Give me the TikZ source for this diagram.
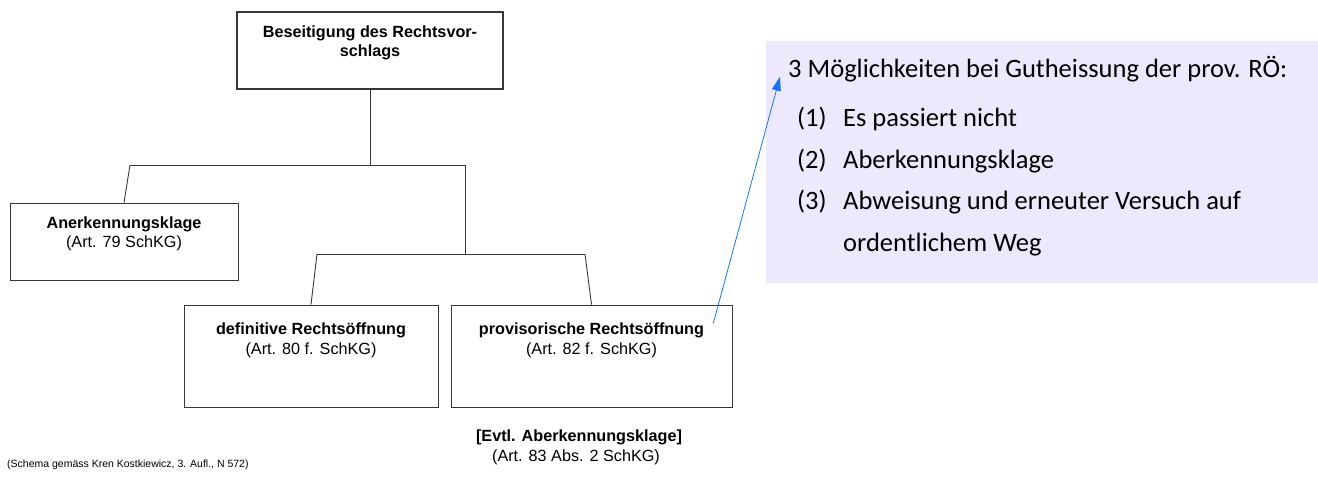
\documentclass[tikz,border=0pt]{standalone}
\usepackage{fontspec}
\setmainfont{Liberation Sans}
\newfontfamily\notefont{Carlito}
\usetikzlibrary{positioning,arrows.meta}
\definecolor{notefill}{RGB}{237,232,251}
\definecolor{notearrow}{RGB}{22,115,245}
\definecolor{treeline}{RGB}{55,55,55}

\begin{document}
\begin{tikzpicture}[x=1pt,y=-1pt,
    box/.style={draw=treeline, line width=0.9pt, inner sep=0pt},
    headtext/.style={font=\bfseries\fontsize{16.2}{19}\selectfont, anchor=base, inner sep=0pt},
    reftext/.style={font=\fontsize{16.2}{19}\selectfont, anchor=base, inner sep=0pt},
    branch/.style={draw=treeline, line width=0.9pt},
    notetext/.style={font=\notefont\fontsize{26.5}{30}\selectfont, anchor=base west, inner sep=0pt}]
    \useasboundingbox (0,0) rectangle (1318,479);

    % boxes of the scheme
    \node[box, line width=2pt, minimum width=266pt, minimum height=77pt] (top) at (370,50.5) {};
    \node[box, minimum width=228pt, minimum height=77pt] (anerk) at (124,241.5) {};
    \node[box, minimum width=254pt, minimum height=102pt] (defin) at (311,356) {};
    \node[box, minimum width=281pt, minimum height=102pt] (prov) at (591.5,356) {};

    % texts in the boxes
    \node[headtext] (tophead) at ([yshift=-26.3pt]top.north) {Beseitigung des Rechtsvor-};
    \node[headtext] (tophead2) at ([yshift=-19.4pt]tophead.base) {schlags};
    \node[headtext] (anerkhead) at ([yshift=-26.3pt]anerk.north) {Anerkennungsklage};
    \node[reftext] (anerkref) at ([yshift=-19pt]anerkhead.base) {(Art. 79 SchKG)};
    \node[headtext] (definhead) at ([yshift=-30pt]defin.north) {definitive Rechtsöffnung};
    \node[reftext] (definref) at ([yshift=-20pt]definhead.base) {(Art. 80 f. SchKG)};
    \node[headtext] (provhead) at ([yshift=-30pt]prov.north) {provisorische Rechtsöffnung};
    \node[reftext] (provref) at ([yshift=-20pt]provhead.base) {(Art. 82 f. SchKG)};
    \node[headtext] (evtlhead) at (579,441.7) {[Evtl. Aberkennungsklage]};
    \node[reftext] (evtlref) at (576,461.7) {(Art. 83 Abs. 2 SchKG)};
    \node[anchor=base west, font=\fontsize{10.5}{12}\selectfont, inner sep=0pt] (source) at (7,467) {(Schema gemäss Kren Kostkiewicz, 3. Aufl., N 572)};

    % branches
    \coordinate (splitl) at (130,165);
    \coordinate (splitr) at (465,165);
    \coordinate (subl) at (317,254);
    \coordinate (subr) at (585,254);
    \draw[branch] (top.south) -- (top.south |- splitl);
    \draw[branch] (splitl) -- (splitr) -- (splitr |- subl);
    \draw[branch] (splitl) -- (anerk.north);
    \draw[branch] (subl) -- (subr);
    \draw[branch] (subl) -- (defin.north);
    \draw[branch] (subr) -- (prov.north);

    % note on the right
    \node[fill=notefill, minimum width=552pt, minimum height=242pt, inner sep=0pt] (note) at (1042,162) {};
    \node[notetext] (notetitle) at (788,77) {3 Möglichkeiten bei Gutheissung der prov. RÖ:};
    \foreach \num/\txt/\ypos in {1/Es passiert nicht/126.5, 2/Aberkennungsklage/168.5, 3/Abweisung und erneuter Versuch auf/209.5} {
        \node[notetext] (num\num) at (797,\ypos) {(\num)};
        \node[notetext] (item\num) at (843,\ypos) {\txt};
    }
    \node[notetext] (item3b) at (843,251) {ordentlichem Weg};

    \draw[notearrow, line width=0.8pt, -{Triangle[length=14pt,width=9pt]}] ([xshift=9pt,yshift=-1pt]provhead.north east) -- ([xshift=-8pt,yshift=5pt]notetitle.south west);
\end{tikzpicture}
\end{document}
